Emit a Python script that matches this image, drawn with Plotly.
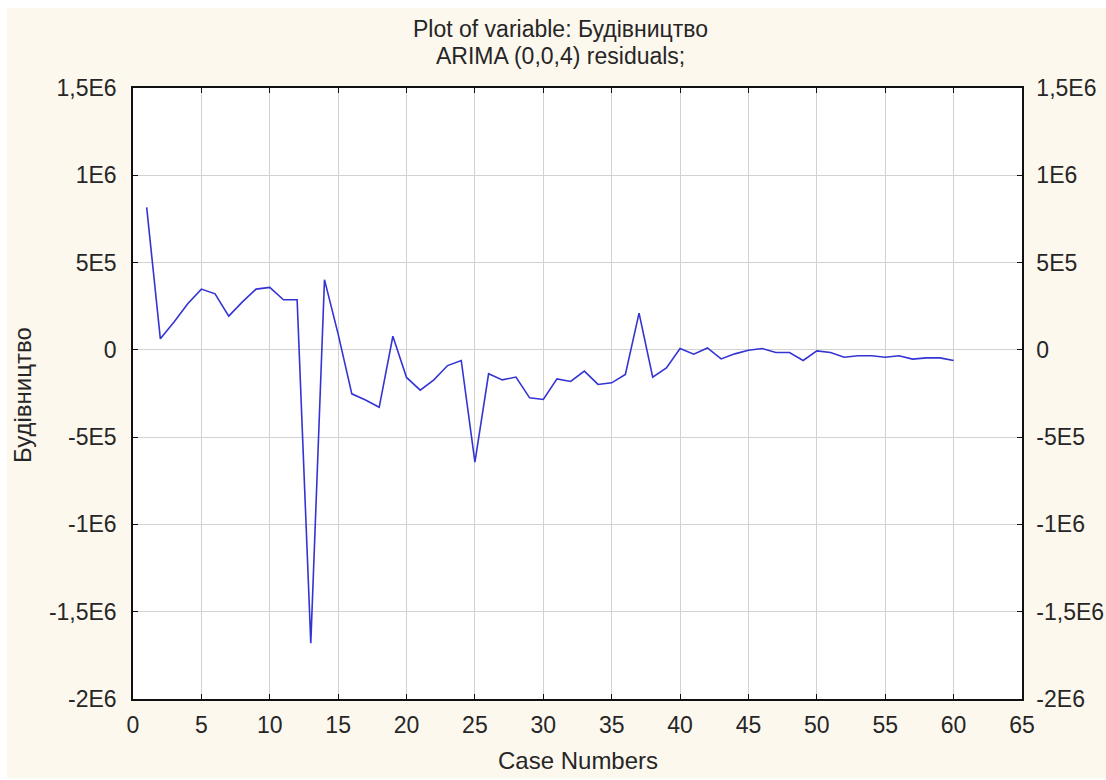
import plotly.graph_objects as go

case_numbers = list(range(1, 61))
residuals = [
    816000, 63000, 160000, 264000, 348000, 321000, 193000, 275000, 348000, 358000,
    287000, 287000, -1680000, 402000, 90000, -252000, -287000, -329000, 78000, -158000,
    -231000, -172000, -90000, -61000, -643000, -137000, -172000, -156000, -275000, -284000,
    -166000, -181000, -122000, -198000, -189000, -141000, 210000, -156000, -103000, 8000,
    -25000, 11000, -52000, -23000, -2000, 8000, -15000, -15000, -61000, -6000,
    -15000, -42000, -34000, -34000, -42000, -34000, -53000, -46000, -46000, -61000,
]

y_tickvals = [1500000, 1000000, 500000, 0, -500000, -1000000, -1500000, -2000000]
y_ticktext = ["1,5E6", "1E6", "5E5", "0", "-5E5", "-1E6", "-1,5E6", "-2E6"]
x_tickvals = list(range(0, 66, 5))

title_line1 = "Plot of variable: Будівництво"
title_line2 = "ARIMA (0,0,4) residuals;"
x_title = "Case Numbers"
y_title = "Будівництво"

FONT = "Liberation Sans, Arial, sans-serif"
TXT = "#262626"
FS = 23
FT = 24
BG = "#FDF8EE"

fig = go.Figure()
fig.add_trace(go.Scatter(x=case_numbers, y=residuals, mode="lines",
                         line=dict(color="#3434D4", width=1.6),
                         showlegend=False, hoverinfo="x+y"))
fig.add_trace(go.Scatter(x=case_numbers, y=residuals, mode="lines", yaxis="y2",
                         line=dict(color="rgba(0,0,0,0)", width=0),
                         showlegend=False, hoverinfo="skip"))

axis_common = dict(showline=True, linecolor="#111111", linewidth=1.5,
                   ticks="inside", ticklen=5, tickcolor="#111111", tickwidth=1,
                   tickfont=dict(family=FONT, size=FS, color=TXT), zeroline=False,
                   automargin=False)

fig.update_layout(
    width=1106, height=780,
    margin=dict(l=133, r=84, t=88, b=81, autoexpand=False),
    paper_bgcolor=BG, plot_bgcolor="white",
    font=dict(family=FONT, size=FS, color=TXT),
    xaxis=dict(range=[0, 65], tickvals=x_tickvals, showgrid=True,
               gridcolor="#D2D2D2", gridwidth=1, mirror="ticks",
               ticklabelstandoff=5, **axis_common),
    yaxis=dict(range=[-2000000, 1500000], tickvals=y_tickvals, ticktext=y_ticktext,
               showgrid=True, gridcolor="#D2D2D2", gridwidth=1,
               ticklabelstandoff=10, **axis_common),
    yaxis2=dict(range=[-2000000, 1500000], tickvals=y_tickvals, ticktext=y_ticktext,
                overlaying="y", side="right", showgrid=False,
                ticklabelstandoff=8, **axis_common),
    annotations=[
        dict(text=title_line1, xref="paper", yref="paper", x=(560 - 133) / 889,
             y=(699 - 29) / 611, xanchor="center", yanchor="middle", borderpad=0,
             showarrow=False, font=dict(family=FONT, size=FT - 1, color=TXT)),
        dict(text=title_line2, xref="paper", yref="paper", x=(560 - 133) / 889,
             y=(699 - 56) / 611, xanchor="center", yanchor="middle", borderpad=0,
             showarrow=False, font=dict(family=FONT, size=FT - 1, color=TXT)),
        dict(text=x_title, xref="paper", yref="paper", x=(578 - 133) / 889,
             y=(699 - 760) / 611, xanchor="center", yanchor="middle",
             showarrow=False, font=dict(family=FONT, size=FT, color=TXT)),
        dict(text=y_title, xref="paper", yref="paper", x=(22 - 133) / 889,
             y=(699 - 395) / 611, xanchor="center", yanchor="middle", textangle=-90,
             showarrow=False, font=dict(family=FONT, size=FT, color=TXT)),
    ],
    shapes=[
        dict(type="rect", xref="paper", yref="paper", x0=-0.2, x1=1.2,
             y0=(699 - 8) / 611, y1=1.3, fillcolor="white", line=dict(width=0), layer="above"),
        dict(type="rect", xref="paper", yref="paper", x0=-0.2, x1=(7 - 133) / 889,
             y0=-0.3, y1=1.3, fillcolor="white", line=dict(width=0), layer="above"),
        dict(type="rect", xref="paper", yref="paper", x0=-0.2, x1=1.2,
             y0=-0.3, y1=(699 - 778) / 611, fillcolor="white", line=dict(width=0), layer="above"),
    ],
)

fig.write_html("out.html")
